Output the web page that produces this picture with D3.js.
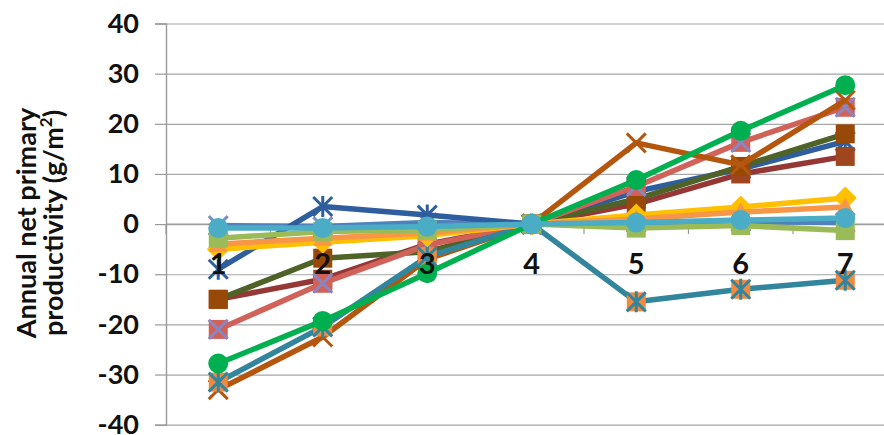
<!DOCTYPE html>
<html><head><meta charset="utf-8">
<script src="https://cdn.jsdelivr.net/npm/d3@7"></script>
<style>html,body{margin:0;padding:0;background:#fff;overflow:hidden}</style>
</head><body><svg id="c" width="884" height="435"></svg>
<script>
// ---- data ----
const categories = ["1","2","3","4","5","6","7"];
const yTickValues = [-40,-30,-20,-10,0,10,20,30,40];
const steelBlueVals  = [-0.3, -0.5, 0.3, 0, 0.3, 0.5, 0.3];
const darkBlueVals   = [-9, 3.5, 1.8, 0, 6.5, 11, 16.5];
const darkRedVals    = [-15, -11, -4, 0, 4, 10, 13.5];
const darkOliveVals  = [-15, -6.8, -5.5, 0, 5, 11.5, 18];
const pinkRedVals    = [-21, -11.8, -4.2, 0, 7.5, 16.3, 23.3];
const brownVals      = [-33, -22.5, -7, 0, 16.2, 11.8, 24.7];
const tealVals       = [-31.5, -20.5, -6.5, 0, -15.5, -13, -11.2];
const yellowVals     = [-5, -3.6, -2.3, 0, 1.8, 3.4, 5.2];
const orangeVals     = [-4, -2.8, -1.8, 0, 1, 2.4, 3.4];
const lightGreenVals = [-2.8, -1.5, -1.2, 0, -0.8, -0.3, -1.3];
const greenVals      = [-27.8, -19.3, -9.8, 0, 8.8, 18.6, 27.7];
const lightBlueVals  = [-0.8, -0.8, -0.5, 0, 0.3, 0.8, 1.2];
const yTitleLines = ["Annual net primary", "productivity (g/m²)"];

const series = [
  {v: steelBlueVals,  line:"#4F81BD", mk:"x",       fill:"none",    stroke:"#7C8FC8"},
  {v: darkBlueVals,   line:"#2F5E9E", mk:"star",    fill:"none",    stroke:"#2F5E9E"},
  {v: darkRedVals,    line:"#953735", mk:"square",  fill:"#A0461E", stroke:"#953735"},
  {v: darkOliveVals,  line:"#4F6228", mk:"square",  fill:"#984807", stroke:"#8A4A1A"},
  {v: pinkRedVals,    line:"#D0625A", mk:"xsq",     fill:"#D0625A", stroke:"#8A86C0"},
  {v: brownVals,      line:"#B5560F", mk:"x",       fill:"#F79646", stroke:"#B5560F"},
  {v: tealVals,       line:"#31859C", mk:"starsq",  fill:"#F08A40", stroke:"#31859C"},
  {v: yellowVals,     line:"#FFC000", mk:"diamond", fill:"#FFC000", stroke:"#FFC000"},
  {v: orangeVals,     line:"#F79646", mk:"triangle",fill:"#F79646", stroke:"#F79646"},
  {v: lightGreenVals, line:"#9BBB59", mk:"square",  fill:"#9BBB59", stroke:"#9BBB59"},
  {v: greenVals,      line:"#00B050", mk:"circle",  fill:"#00B050", stroke:"#00B050"},
  {v: lightBlueVals,  line:"#4BACC6", mk:"circle",  fill:"#4BACC6", stroke:"#4BACC6"}
];

// ---- layout ----
const svg = d3.select("#c");
const x = d3.scaleBand().domain(categories).range([166, 897.5]).paddingInner(0).paddingOuter(0);
const y = d3.scaleLinear().domain([-40, 40]).range([424.7, 23.5]);
const cx = c => x(c) + x.bandwidth()/2;
const FONT = "Lato, 'Open Sans', sans-serif";

// gridlines
const grid = d3.axisLeft(y).tickValues(yTickValues).tickSize(-(897.5-166)).tickFormat("");
svg.append("g").attr("transform","translate(166,0)").call(grid)
  .call(g=>g.select(".domain").remove())
  .call(g=>g.selectAll("line").attr("stroke","#A6A6A6").attr("stroke-width",1.2));

// y axis
const yAxis = d3.axisLeft(y).tickValues(yTickValues).tickSize(11).tickPadding(16).tickFormat(d => String(d));
svg.append("g").attr("transform","translate(166,0)").call(yAxis)
  .call(g=>g.select(".domain").attr("stroke","#999").attr("stroke-width",1.4))
  .call(g=>g.selectAll("line").attr("stroke","#999").attr("stroke-width",1.2))
  .call(g=>g.selectAll("text").attr("font-family",FONT).attr("font-weight","bold").attr("font-size",27).attr("fill","#111"));

// x axis at zero (ticks between categories)
const xAxisG = svg.append("g").attr("transform",`translate(0,${y(0)})`);
xAxisG.append("line").attr("x1",166).attr("x2",897.5).attr("y1",0).attr("y2",0).attr("stroke","#999").attr("stroke-width",1.2);
xAxisG.selectAll("line.tk").data(categories).join("line").attr("class","tk")
  .attr("x1",d=>x(d)).attr("x2",d=>x(d)).attr("y1",0).attr("y2",10).attr("stroke","#999").attr("stroke-width",1.2);

// series lines
const line = d3.line().x((d,i)=>cx(categories[i])).y(d=>y(d));
const marker = (g, s, px, py) => {
  const r = 9.5;
  if (s.mk === "circle") g.append("circle").attr("cx",px).attr("cy",py).attr("r",r+0.5).attr("fill",s.fill);
  if (s.mk === "square" || s.mk === "xsq" || s.mk === "starsq")
    g.append("rect").attr("x",px-r).attr("y",py-r).attr("width",2*r).attr("height",2*r).attr("fill",s.fill);
  if (s.mk === "diamond") g.append("path").attr("d",`M${px},${py-r-2}L${px+r+2},${py}L${px},${py+r+2}L${px-r-2},${py}Z`).attr("fill",s.fill);
  if (s.mk === "triangle") g.append("path").attr("d",`M${px},${py-r}L${px+r},${py+r*0.8}L${px-r},${py+r*0.8}Z`).attr("fill",s.fill);
  if (s.mk === "x" || s.mk === "xsq" || s.mk === "star" || s.mk === "starsq") {
    const p = d3.path();
    p.moveTo(px-r,py-r); p.lineTo(px+r,py+r); p.moveTo(px+r,py-r); p.lineTo(px-r,py+r);
    if (s.mk.startsWith("star")) { p.moveTo(px,py-r-1); p.lineTo(px,py+r+1); }
    g.append("path").attr("d",p.toString()).attr("stroke",s.stroke).attr("stroke-width",3).attr("fill","none");
  }
};
series.forEach(s => {
  const g = svg.append("g");
  g.append("path").datum(s.v).attr("d",line).attr("fill","none").attr("stroke",s.line)
    .attr("stroke-width",5.5).attr("stroke-linejoin","round");
  s.v.forEach((val,i)=>marker(g, s, cx(categories[i]), y(val)));
});

// x labels
svg.append("g").selectAll("text").data(categories).join("text")
  .attr("x",d=>cx(d)).attr("y",y(0)+50).attr("text-anchor","middle")
  .attr("font-family",FONT).attr("font-weight","bold").attr("font-size",29).attr("fill","#111").text(d=>d);

// y title
const tt = svg.append("text").attr("transform","translate(36,223) rotate(-90)").attr("text-anchor","middle")
  .attr("font-family",FONT).attr("font-weight","bold").attr("font-size",27).attr("fill","#111");
tt.append("tspan").attr("x",0).attr("dy",0).text(yTitleLines[0]);
const t2 = tt.append("tspan").attr("x",0).attr("dy",27);
t2.append("tspan").text("productivity (g/m");
t2.append("tspan").attr("font-size",17).attr("dy",-11).text("2");
t2.append("tspan").attr("dy",11).text(")");
</script></body></html>
